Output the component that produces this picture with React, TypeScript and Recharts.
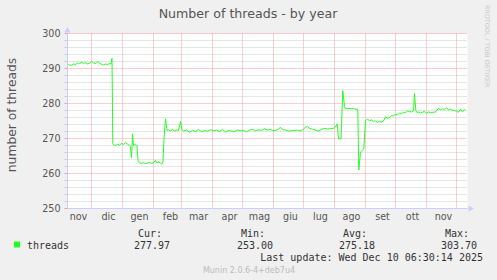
import { LineChart, Line, XAxis, YAxis, CartesianGrid, ReferenceLine, ReferenceDot } from "recharts";

// day 0 = 7 Nov 2024, one pixel per day
const startDate = Date.UTC(2024, 10, 7);
const DAY = 86400000;

const monthLabels = ["nov", "dic", "gen", "feb", "mar", "apr", "mag", "giu", "lug", "ago", "set", "ott", "nov"];

const days = [
  0, 2, 4, 6, 8, 10, 12, 14, 16, 18, 20, 22, 24, 26, 28, 30, 32, 34, 36, 38, 40, 42, 43.5, 44.5, 45.3,
  46, 48, 50, 52, 54, 56, 58, 60, 62, 63, 64, 65, 66, 68, 69.5, 70.5, 72, 74, 76, 78, 80, 82, 84, 86, 88, 89, 91, 93, 94, 95.5, 96.5, 98, 99.5,
  101, 103, 105, 107, 109, 111, 113, 114.5, 116, 119, 122, 125, 128, 131, 134, 137, 140, 143, 146, 149, 152, 155, 158,
  161, 164, 167, 170, 173, 176, 179, 182, 185, 188, 191, 194, 197, 200, 203, 206, 209, 211, 213, 215, 218, 221, 224,
  227, 230, 233, 236, 238, 240, 242, 245, 248, 251, 254, 257, 260, 263, 266, 268, 269.7, 271, 273.5, 275.3, 277, 278,
  281, 284, 287, 290.3, 291.3, 293, 296.3, 298, 300, 302, 304, 306, 308, 310, 312, 314, 316, 318, 320, 322, 324, 326,
  328, 330, 332, 334, 336, 338, 340, 342, 344, 346, 347, 348.3, 349.5, 351, 353, 355, 357, 359, 361, 363, 365, 368,
  371, 373, 375, 377, 379, 381, 383, 385, 387, 389, 391, 393, 395, 397, 398,
];

const threads = [
  291.4, 291.0, 290.9, 291.3, 291.1, 291.6, 291.4, 291.8, 291.5, 291.7, 291.3, 291.5, 292.0, 291.6, 291.4, 291.9, 291.6, 291.2, 291.0, 291.3, 291.1, 291.4, 291.3, 292.9, 268.6,
  268.2, 268.0, 268.4, 268.1, 268.6, 268.3, 268.9, 268.4, 268.0, 267.6, 264.4, 271.3, 268.0, 268.4, 267.9, 263.7, 263.0, 262.9, 263.1, 262.8, 263.0, 263.2, 262.9, 263.1, 263.8, 263.1, 263.3, 262.9, 262.6, 263.4, 270.0, 275.6, 272.3,
  272.4, 272.2, 272.6, 272.1, 272.4, 272.3, 274.9, 272.5, 272.1, 272.4, 271.8, 272.3, 272.0, 272.6, 271.9, 272.3, 272.1, 272.5, 272.2, 272.4, 272.0, 272.6, 271.8,
  272.3, 272.1, 272.0, 272.4, 272.2, 272.3, 271.9, 272.4, 272.6, 272.2, 272.5, 272.3, 272.8, 272.4, 272.6, 272.2, 272.4, 272.7, 273.2, 272.6, 272.4, 272.1, 272.3,
  272.2, 272.4, 272.2, 272.6, 273.3, 273.4, 272.9, 272.6, 272.4, 272.1, 272.6, 272.9, 272.7, 272.8, 272.9, 273.3, 274.2, 269.9, 269.9, 283.7, 279.1, 278.5,
  278.6, 278.5, 278.5, 278.2, 261.0, 266.1, 267.0, 275.1, 275.5, 275.1, 275.3, 274.9, 275.0, 274.6, 274.9, 274.7, 275.0, 276.2, 275.8, 276.0, 276.6, 276.4,
  277.0, 276.7, 277.3, 277.1, 277.5, 277.4, 277.9, 277.7, 277.6, 277.9, 282.8, 278.0, 277.4, 277.6, 277.3, 277.5, 277.8, 277.2, 277.6, 277.4, 277.4, 277.6,
  278.6, 278.2, 278.5, 278.3, 278.7, 278.2, 278.4, 278.1, 278.0, 277.8, 277.5, 278.4, 277.6, 278.3, 278.0,
];

const yMajor = [260, 270, 280, 290, 300];
const yTicks = [250, 252, 254, 256, 258, 260, 262, 264, 266, 268, 270, 272, 274, 276, 278, 280, 282, 284, 286, 288, 290, 292, 294, 296, 298, 300];

const statNames = ["Cur:", "Min:", "Avg:", "Max:"];
const statValues = ["277.97", "253.00", "275.18", "303.70"];
const statRight = [170, 273, 375, 477];

const data = days.map((d, i) => ({ day: d, threads: threads[i] }));

const monthStart = (i: number) => (Date.UTC(2024, 10 + i, 1) - startDate) / DAY;
const gridDays = monthLabels.map((_, i) => monthStart(i + 1));
const labelDays = monthLabels.map((_, i) => monthStart(i) + 17);

const AXIS = "#ccccff";
const MAJOR = "#f2a0a0";
const MINOR = "#cccccc";
const FONT = "'DejaVu Sans', sans-serif";
const MONO = "'DejaVu Sans Mono', monospace";

const YTick = ({ x, y, payload }: any) => {
  const major = payload.value % 10 === 0;
  return (
    <g>
      <line x1={x - 3} x2={x} y1={y} y2={y} stroke={major ? MAJOR : MINOR} />
      {major && (
        <text x={x - 7} y={y} dy={3.5} textAnchor="end" fontSize={9.6} fontFamily={FONT} fill="#555">
          {payload.value}
        </text>
      )}
    </g>
  );
};

const XTick = ({ x, y, index }: any) => (
  <text x={x} y={y} dy={11.5} textAnchor="middle" fontSize={9.6} fontFamily={FONT} fill="#555">
    {monthLabels[index]}
  </text>
);

export default function App() {
  return (
    <div style={{ position: "relative", width: 497, height: 280, background: "#f0f0f0" }}>
      <style>{"body{margin:0}"}</style>
      <LineChart width={497} height={280} data={data} margin={{ top: 33.5, right: 29.5, bottom: 51.5, left: 0 }}>
        <CartesianGrid horizontal={false} vertical={false} fill="#ffffff" stroke="none" />
        {yTicks
          .filter((v) => v % 10 !== 0)
          .map((v) => (
            <ReferenceLine key={"m" + v} y={v} stroke={MINOR} strokeDasharray="1 1" />
          ))}
        {yMajor.map((v) => (
          <ReferenceLine key={"M" + v} y={v} stroke={MAJOR} strokeDasharray="1 1" />
        ))}
        {gridDays.map((d) => (
          <ReferenceLine key={"v" + d} x={d} stroke={MAJOR} strokeDasharray="1 1" />
        ))}
        <XAxis
          type="number"
          dataKey="day"
          domain={[0, 400]}
          ticks={labelDays}
          interval={0}
          height={20}
          tickSize={0}
          tickMargin={0}
          tickLine={false}
          axisLine={{ stroke: AXIS }}
          tick={<XTick />}
        />
        <YAxis
          type="number"
          domain={[250, 300]}
          ticks={yTicks}
          interval={0}
          width={67.5}
          tickSize={0}
          tickMargin={0}
          tickLine={false}
          axisLine={{ stroke: AXIS }}
          tick={<YTick />}
        />
        <ReferenceDot
          x={0}
          y={300}
          r={0}
          shape={(p: any) => <path d={`M${p.cx},${p.cy - 6.5}L${p.cx - 3},${p.cy - 1}L${p.cx + 3},${p.cy - 1}Z`} fill={AXIS} />}
        />
        <ReferenceDot
          x={400}
          y={250}
          r={0}
          shape={(p: any) => <path d={`M${p.cx + 6.5},${p.cy}L${p.cx + 1},${p.cy - 3}L${p.cx + 1},${p.cy + 3}Z`} fill={AXIS} />}
        />
        <Line type="linear" dataKey="threads" stroke="#22ff22" strokeWidth={1} dot={false} activeDot={false} isAnimationActive={false} />
      </LineChart>
      <svg width={497} height={280} style={{ position: "absolute", left: 0, top: 0, pointerEvents: "none" }}>
        <text x={248} y={17.5} textAnchor="middle" fontSize={12.6} fontFamily={FONT} fill="#555">
          Number of threads - by year
        </text>
        <text x={16} y={115} transform="rotate(-90 16 115)" textAnchor="middle" fontSize={12.3} fontFamily={FONT} fill="#555">
          number of threads
        </text>
        <text x={485} y={5} transform="rotate(90 485 5)" fontSize={6.4} fontFamily={FONT} fill="#c8c8c8">
          RRDTOOL / TOBI OETIKER
        </text>
        <rect x={14} y={241.5} width={6} height={6} fill="#22ff22" />
        <text x={27} y={249} fontSize={10} fontFamily={MONO} fill="#333">threads</text>
        {statNames.map((s, i) => (
          <g key={s}>
            <text x={statRight[i] - 8} y={237} textAnchor="end" fontSize={10} fontFamily={MONO} fill="#333">{s}</text>
            <text x={statRight[i]} y={249} textAnchor="end" fontSize={10} fontFamily={MONO} fill="#333">{statValues[i]}</text>
          </g>
        ))}
        <text x={483} y={261} textAnchor="end" fontSize={10} fontFamily={MONO} fill="#333">
          Last update: Wed Dec 10 06:30:14 2025
        </text>
        <text x={249} y={272.5} textAnchor="middle" fontSize={8} fontFamily={FONT} fill="#bbb">
          Munin 2.0.6-4+deb7u4
        </text>
      </svg>
    </div>
  );
}
